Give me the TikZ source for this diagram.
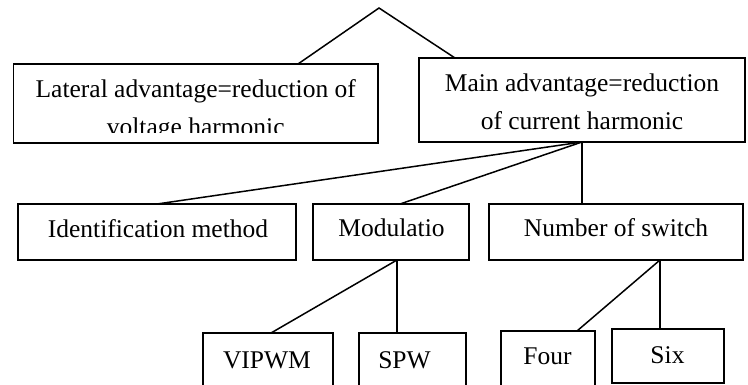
\documentclass[tikz,border=0pt]{standalone}
\usepackage{fontspec}
\setmainfont{Liberation Serif}
\usetikzlibrary{calc}
\tikzset{
  box/.style={draw, line width=1.6pt, rectangle, inner sep=0pt, outer sep=0pt, anchor=north west},
  lbl/.style={font=\fontsize{25.5}{30}\selectfont, inner sep=0pt, anchor=base},
  conn/.style={line width=1.5pt}
}
\begin{document}
\begin{tikzpicture}[x=1pt,y=-1pt]
\useasboundingbox (0,0) rectangle (748,385);
\clip (0,0) rectangle (748,385);
% boxes
\node[box, minimum width=364.5pt, minimum height=79pt] (L) at (13.5,64) {};
\node[box, minimum width=326pt, minimum height=84pt] (M) at (419,58) {};
\node[box, minimum width=278pt, minimum height=56pt] (I) at (18,204) {};
\node[box, minimum width=156pt, minimum height=56pt] (Mo) at (313,204) {};
\node[box, minimum width=254pt, minimum height=56pt] (N) at (489,204) {};
\node[box, minimum width=130pt, minimum height=70pt] (V) at (203,333) {};
\node[box, minimum width=107pt, minimum height=70pt] (S) at (359,333) {};
\node[box, minimum width=94pt, minimum height=70pt] (F) at (501,331) {};
\node[box, minimum width=112pt, minimum height=54pt] (X) at (612,329) {};
% texts
\begin{scope}
\clip (L.north west) rectangle ([yshift=10.5pt]L.south east);
\node[lbl] (Lt1) at (195.75,98) {Lateral advantage=reduction of};
\node[lbl] (Lt2) at (195.75,136) {voltage harmonic};
\end{scope}
\node[lbl] (Mt1) at (582,92) {Main advantage=reduction};
\node[lbl] (Mt2) at (582,130) {of current harmonic};
\node[lbl] (It) at (158,238) {Identification method};
\node[lbl] (Mot) at (391.5,237) {Modulatio};
\node[lbl] (Nt) at (616,237) {Number of switch};
\node[lbl] (Vt) at (267,368) {VIPWM};
\node[lbl] (St) at (404.5,368) {SPW};
\node[lbl] (Ft) at (547.5,364) {Four};
\node[lbl] (Xt) at (667.5,363) {Six};
% connectors
\coordinate (apex) at (379,8);
\draw[conn] ([xshift=102.25pt]L.north) -- (apex) -- ([xshift=-127pt]M.north);
\draw[conn] (M.south) -- (I.north);
\draw[conn] (M.south) -- ([xshift=9pt]Mo.north);
\draw[conn] (M.south) -- (M.south |- N.north);
\coordinate (mh) at ([xshift=6pt]Mo.south);
\draw[conn] (mh) -- ([xshift=3pt]V.north);
\draw[conn] (mh) -- (mh |- S.north);
\coordinate (nh) at ([xshift=44pt]N.south);
\draw[conn] (nh) -- ([xshift=29pt]F.north);
\draw[conn] (nh) -- (nh |- X.north);
\end{tikzpicture}
\end{document}
